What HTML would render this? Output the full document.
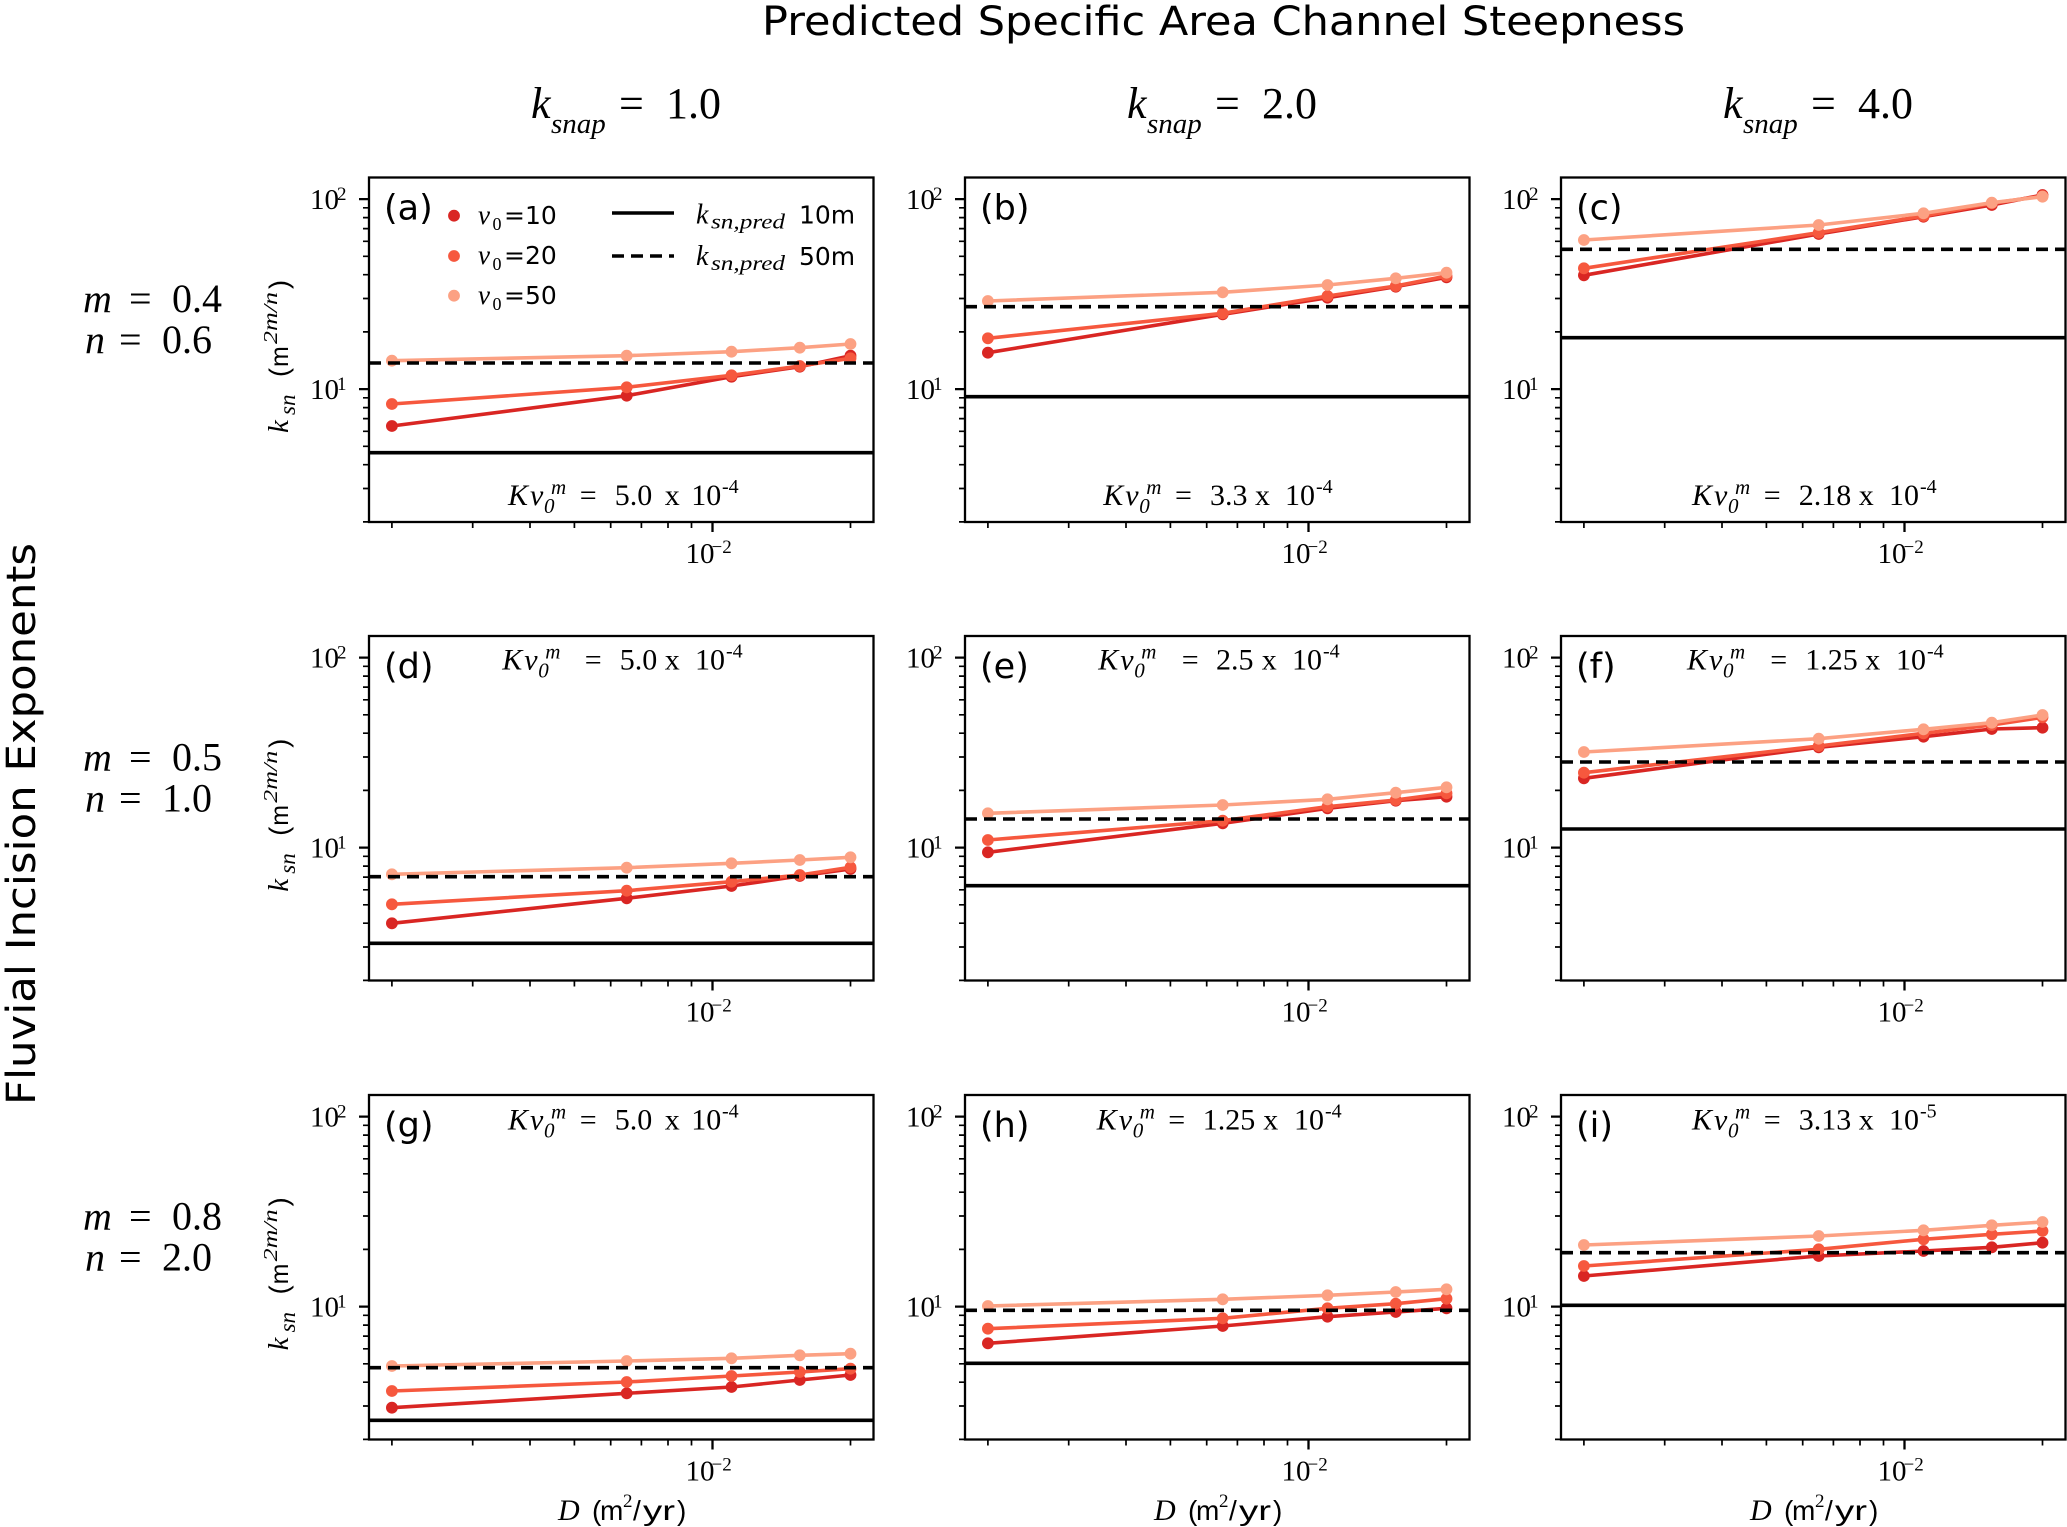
<!DOCTYPE html>
<html><head><meta charset="utf-8">
<style>
html,body{margin:0;padding:0;background:#fff}
svg{display:block}
.sf{font-family:"Liberation Serif",serif}
.it{font-family:"Liberation Serif",serif;font-style:italic}
.ss{font-family:"DejaVu Sans",sans-serif}
.ls{font-family:"Liberation Sans",sans-serif}
.l1{fill:none;stroke:#d92623;stroke-width:3.6;stroke-linejoin:round}
.l2{fill:none;stroke:#f6583e;stroke-width:3.6;stroke-linejoin:round}
.l3{fill:none;stroke:#fca183;stroke-width:3.6;stroke-linejoin:round}
.m1{fill:#d92623}.m2{fill:#f6583e}.m3{fill:#fca183}
.hs{stroke:#000;stroke-width:3.6}
.hd{stroke:#000;stroke-width:3.6;stroke-dasharray:12 7}
.t29{font-family:"Liberation Serif",serif;font-size:29px}
.t19{font-family:"Liberation Serif",serif;font-size:19px}
.kv{font-family:"Liberation Serif",serif;font-size:30px}
.kvi{font-family:"Liberation Serif",serif;font-style:italic;font-size:30px}
.kvs{font-family:"Liberation Serif",serif;font-style:italic;font-size:21px}
.kvp{font-family:"Liberation Serif",serif;font-size:20px}
.pl{font-family:"DejaVu Sans",sans-serif;font-size:35px}
circle{r:5.9px}
</style></head><body>
<svg xmlns="http://www.w3.org/2000/svg" xmlns:xlink="http://www.w3.org/1999/xlink" width="2067" height="1527" viewBox="0 0 2067 1527">
<defs>
<g id="ax">
<rect x="0" y="0" width="504.5" height="344.5" fill="none" stroke="#000" stroke-width="2.3"/>
<path d="M0 21.6h-10M0 211.6h-10M343.5 344.5v10" stroke="#000" stroke-width="2.3" fill="none"/>
<path d="M0 30.3h-6M0 40.1h-6M0 51.1h-6M0 63.8h-6M0 78.8h-6M0 97.2h-6M0 121h-6M0 154.4h-6M0 220.3h-6M0 230.1h-6M0 241.1h-6M0 253.8h-6M0 268.8h-6M0 287.2h-6M0 311h-6M0 344.4h-6M22.9 344.5v6M103.7 344.5v6M161 344.5v6M205.4 344.5v6M241.7 344.5v6M272.4 344.5v6M299 344.5v6M322.5 344.5v6M481.5 344.5v6" stroke="#000" stroke-width="1.7" fill="none"/>
</g>
</defs>

<!-- Title -->
<text x="762" y="35" class="ss" font-size="40" textLength="923" lengthAdjust="spacingAndGlyphs">Predicted Specific Area Channel Steepness</text>

<!-- Fluvial Incision Exponents -->
<g transform="translate(35,1105) rotate(-90)">
<text x="0" y="0" class="ss" font-size="40" textLength="562" lengthAdjust="spacingAndGlyphs">Fluvial Incision Exponents</text>
</g>

<!-- Column headers -->
<g>
<text x="531" y="118" class="it" font-size="44">k</text><text x="551" y="133" class="it" font-size="29">snap</text><text x="619" y="118" class="sf" font-size="44">=</text><text x="666" y="118" class="sf" font-size="44">1.0</text>
<text x="1127" y="118" class="it" font-size="44">k</text><text x="1147" y="133" class="it" font-size="29">snap</text><text x="1215" y="118" class="sf" font-size="44">=</text><text x="1262" y="118" class="sf" font-size="44">2.0</text>
<text x="1723" y="118" class="it" font-size="44">k</text><text x="1743" y="133" class="it" font-size="29">snap</text><text x="1811" y="118" class="sf" font-size="44">=</text><text x="1858" y="118" class="sf" font-size="44">4.0</text>
</g>

<!-- Row labels -->
<g>
<text x="83" y="312" class="it" font-size="40">m</text><text x="129" y="312" class="sf" font-size="40">=</text><text x="172" y="312" class="sf" font-size="40">0.4</text>
<text x="85" y="353" class="it" font-size="40">n</text><text x="119" y="353" class="sf" font-size="40">=</text><text x="162" y="353" class="sf" font-size="40">0.6</text>
<text x="83" y="770.7" class="it" font-size="40">m</text><text x="129" y="770.7" class="sf" font-size="40">=</text><text x="172" y="770.7" class="sf" font-size="40">0.5</text>
<text x="85" y="811.7" class="it" font-size="40">n</text><text x="119" y="811.7" class="sf" font-size="40">=</text><text x="162" y="811.7" class="sf" font-size="40">1.0</text>
<text x="83" y="1229.4" class="it" font-size="40">m</text><text x="129" y="1229.4" class="sf" font-size="40">=</text><text x="172" y="1229.4" class="sf" font-size="40">0.8</text>
<text x="85" y="1270.4" class="it" font-size="40">n</text><text x="119" y="1270.4" class="sf" font-size="40">=</text><text x="162" y="1270.4" class="sf" font-size="40">2.0</text>
</g>

<!-- Y labels -->
<g transform="translate(288,433) rotate(-90)">
<text x="0" y="0" class="it" font-size="29">k</text><text x="18" y="7" class="it" font-size="23">sn</text>
<text x="56" y="0" class="ls" font-size="27">(</text><text x="66" y="0" class="ls" font-size="25">m</text>
<text x="89" y="-11" class="it" font-size="20" textLength="52" lengthAdjust="spacingAndGlyphs">2m/n</text>
<text x="144" y="0" class="ls" font-size="27">)</text>
</g>
<g transform="translate(288,891.7) rotate(-90)">
<text x="0" y="0" class="it" font-size="29">k</text><text x="18" y="7" class="it" font-size="23">sn</text>
<text x="56" y="0" class="ls" font-size="27">(</text><text x="66" y="0" class="ls" font-size="25">m</text>
<text x="89" y="-11" class="it" font-size="20" textLength="52" lengthAdjust="spacingAndGlyphs">2m/n</text>
<text x="144" y="0" class="ls" font-size="27">)</text>
</g>
<g transform="translate(288,1350.4) rotate(-90)">
<text x="0" y="0" class="it" font-size="29">k</text><text x="18" y="7" class="it" font-size="23">sn</text>
<text x="56" y="0" class="ls" font-size="27">(</text><text x="66" y="0" class="ls" font-size="25">m</text>
<text x="89" y="-11" class="it" font-size="20" textLength="52" lengthAdjust="spacingAndGlyphs">2m/n</text>
<text x="144" y="0" class="ls" font-size="27">)</text>
</g>

<!-- Panel a -->
<g transform="translate(369,177.5)">
<polyline class="l1" points="22.9,248.5 257.7,218.2 362.5,199.2 430.8,189.2 481.5,178.2"/>
<g class="m1"><circle cx="22.9" cy="248.5" r="5.9"/><circle cx="257.7" cy="218.2" r="5.9"/><circle cx="362.5" cy="199.2" r="5.9"/><circle cx="430.8" cy="189.2" r="5.9"/><circle cx="481.5" cy="178.2" r="5.9"/></g>
<polyline class="l2" points="22.9,226.5 257.7,209.8 362.5,197.8 430.8,188.5 481.5,180.8"/>
<g class="m2"><circle cx="22.9" cy="226.5" r="5.9"/><circle cx="257.7" cy="209.8" r="5.9"/><circle cx="362.5" cy="197.8" r="5.9"/><circle cx="430.8" cy="188.5" r="5.9"/><circle cx="481.5" cy="180.8" r="5.9"/></g>
<polyline class="l3" points="22.9,183.2 257.7,178.2 362.5,174.2 430.8,170.2 481.5,166.5"/>
<g class="m3"><circle cx="22.9" cy="183.2" r="5.9"/><circle cx="257.7" cy="178.2" r="5.9"/><circle cx="362.5" cy="174.2" r="5.9"/><circle cx="430.8" cy="170.2" r="5.9"/><circle cx="481.5" cy="166.5" r="5.9"/></g>
<line class="hs" x1="0" x2="504.5" y1="275.2" y2="275.2"/>
<line class="hd" x1="0" x2="504.5" y1="185.5" y2="185.5"/>
<use xlink:href="#ax" href="#ax"/>
<text x="-59" y="31.6" class="t29">10</text><text x="-32" y="22.6" class="t19">2</text>
<text x="-59" y="221.6" class="t29">10</text><text x="-32" y="212.6" class="t19">1</text>
<text x="316.5" y="385.5" class="t29">10</text><text x="342.5" y="375.5" class="t19">−2</text>
<text x="15" y="42" class="pl">(a)</text>
<!-- legend -->
<circle class="m1" cx="85" cy="38.2" r="5.9"/><circle class="m2" cx="85" cy="78.5" r="5.9"/><circle class="m3" cx="85" cy="118.2" r="5.9"/>
<text x="109" y="46.5" class="it" font-size="27">v</text><text x="123.5" y="52.5" class="sf" font-size="18">0</text><text x="135" y="46.5" class="ss" font-size="25">=10</text>
<text x="109" y="86.5" class="it" font-size="27">v</text><text x="123.5" y="92.5" class="sf" font-size="18">0</text><text x="135" y="86.5" class="ss" font-size="25">=20</text>
<text x="109" y="126.5" class="it" font-size="27">v</text><text x="123.5" y="132.5" class="sf" font-size="18">0</text><text x="135" y="126.5" class="ss" font-size="25">=50</text>
<line class="hs" x1="243" x2="305" y1="35.5" y2="35.5"/>
<line class="hd" x1="243" x2="305" y1="78.5" y2="78.5"/>
<text x="327" y="45.8" class="it" font-size="28">k</text><text x="342" y="51" class="it" font-size="21" textLength="74" lengthAdjust="spacingAndGlyphs">sn,pred</text><text x="430" y="45.8" class="ss" font-size="25">10m</text>
<text x="327" y="87.5" class="it" font-size="28">k</text><text x="342" y="92.7" class="it" font-size="21" textLength="74" lengthAdjust="spacingAndGlyphs">sn,pred</text><text x="430" y="87.5" class="ss" font-size="25">50m</text>
</g>

<!-- Panel b -->
<g transform="translate(965,177.5)">
<polyline class="l1" points="22.9,175.2 257.7,136.8 362.5,120.2 430.8,109.2 481.5,99.8"/>
<g class="m1"><circle cx="22.9" cy="175.2" r="5.9"/><circle cx="257.7" cy="136.8" r="5.9"/><circle cx="362.5" cy="120.2" r="5.9"/><circle cx="430.8" cy="109.2" r="5.9"/><circle cx="481.5" cy="99.8" r="5.9"/></g>
<polyline class="l2" points="22.9,160.8 257.7,135.8 362.5,118.5 430.8,108.5 481.5,98.5"/>
<g class="m2"><circle cx="22.9" cy="160.8" r="5.9"/><circle cx="257.7" cy="135.8" r="5.9"/><circle cx="362.5" cy="118.5" r="5.9"/><circle cx="430.8" cy="108.5" r="5.9"/><circle cx="481.5" cy="98.5" r="5.9"/></g>
<polyline class="l3" points="22.9,123.5 257.7,114.8 362.5,107.5 430.8,100.8 481.5,95.2"/>
<g class="m3"><circle cx="22.9" cy="123.5" r="5.9"/><circle cx="257.7" cy="114.8" r="5.9"/><circle cx="362.5" cy="107.5" r="5.9"/><circle cx="430.8" cy="100.8" r="5.9"/><circle cx="481.5" cy="95.2" r="5.9"/></g>
<line class="hs" x1="0" x2="504.5" y1="219.2" y2="219.2"/>
<line class="hd" x1="0" x2="504.5" y1="129.2" y2="129.2"/>
<use xlink:href="#ax" href="#ax"/>
<text x="-59" y="31.6" class="t29">10</text><text x="-32" y="22.6" class="t19">2</text>
<text x="-59" y="221.6" class="t29">10</text><text x="-32" y="212.6" class="t19">1</text>
<text x="316.5" y="385.5" class="t29">10</text><text x="342.5" y="375.5" class="t19">−2</text>
<text x="15" y="42" class="pl">(b)</text>
</g>

<!-- Panel c -->
<g transform="translate(1561,177.5)">
<polyline class="l1" points="22.9,97.8 257.7,56.5 362.5,39.2 430.8,27.5 481.5,17.5"/>
<g class="m1"><circle cx="22.9" cy="97.8" r="5.9"/><circle cx="257.7" cy="56.5" r="5.9"/><circle cx="362.5" cy="39.2" r="5.9"/><circle cx="430.8" cy="27.5" r="5.9"/><circle cx="481.5" cy="17.5" r="5.9"/></g>
<polyline class="l2" points="22.9,90.8 257.7,55.2 362.5,38.5 430.8,25.8 481.5,18.5"/>
<g class="m2"><circle cx="22.9" cy="90.8" r="5.9"/><circle cx="257.7" cy="55.2" r="5.9"/><circle cx="362.5" cy="38.5" r="5.9"/><circle cx="430.8" cy="25.8" r="5.9"/><circle cx="481.5" cy="18.5" r="5.9"/></g>
<polyline class="l3" points="22.9,62.5 257.7,47.5 362.5,35.8 430.8,25.2 481.5,19.2"/>
<g class="m3"><circle cx="22.9" cy="62.5" r="5.9"/><circle cx="257.7" cy="47.5" r="5.9"/><circle cx="362.5" cy="35.8" r="5.9"/><circle cx="430.8" cy="25.2" r="5.9"/><circle cx="481.5" cy="19.2" r="5.9"/></g>
<line class="hs" x1="0" x2="504.5" y1="160.2" y2="160.2"/>
<line class="hd" x1="0" x2="504.5" y1="71.8" y2="71.8"/>
<use xlink:href="#ax" href="#ax"/>
<text x="-59" y="31.6" class="t29">10</text><text x="-32" y="22.6" class="t19">2</text>
<text x="-59" y="221.6" class="t29">10</text><text x="-32" y="212.6" class="t19">1</text>
<text x="316.5" y="385.5" class="t29">10</text><text x="342.5" y="375.5" class="t19">−2</text>
<text x="15" y="42" class="pl">(c)</text>
</g>

<!-- Panel d -->
<g transform="translate(369,636)">
<polyline class="l1" points="22.9,287.3 257.7,262.3 362.5,250 430.8,240 481.5,233"/>
<g class="m1"><circle cx="22.9" cy="287.3" r="5.9"/><circle cx="257.7" cy="262.3" r="5.9"/><circle cx="362.5" cy="250" r="5.9"/><circle cx="430.8" cy="240" r="5.9"/><circle cx="481.5" cy="233" r="5.9"/></g>
<polyline class="l2" points="22.9,268.3 257.7,254.7 362.5,245.7 430.8,239 481.5,231.3"/>
<g class="m2"><circle cx="22.9" cy="268.3" r="5.9"/><circle cx="257.7" cy="254.7" r="5.9"/><circle cx="362.5" cy="245.7" r="5.9"/><circle cx="430.8" cy="239" r="5.9"/><circle cx="481.5" cy="231.3" r="5.9"/></g>
<polyline class="l3" points="22.9,238.3 257.7,231.7 362.5,227.3 430.8,224 481.5,221.3"/>
<g class="m3"><circle cx="22.9" cy="238.3" r="5.9"/><circle cx="257.7" cy="231.7" r="5.9"/><circle cx="362.5" cy="227.3" r="5.9"/><circle cx="430.8" cy="224" r="5.9"/><circle cx="481.5" cy="221.3" r="5.9"/></g>
<line class="hs" x1="0" x2="504.5" y1="307.3" y2="307.3"/>
<line class="hd" x1="0" x2="504.5" y1="240.7" y2="240.7"/>
<use xlink:href="#ax" href="#ax"/>
<text x="-59" y="31.6" class="t29">10</text><text x="-32" y="22.6" class="t19">2</text>
<text x="-59" y="221.6" class="t29">10</text><text x="-32" y="212.6" class="t19">1</text>
<text x="316.5" y="385.5" class="t29">10</text><text x="342.5" y="375.5" class="t19">−2</text>
<text x="15" y="42" class="pl">(d)</text>
</g>

<!-- Panel e -->
<g transform="translate(965,636)">
<polyline class="l1" points="22.9,216.3 257.7,187.3 362.5,172.3 430.8,164.7 481.5,160.7"/>
<g class="m1"><circle cx="22.9" cy="216.3" r="5.9"/><circle cx="257.7" cy="187.3" r="5.9"/><circle cx="362.5" cy="172.3" r="5.9"/><circle cx="430.8" cy="164.7" r="5.9"/><circle cx="481.5" cy="160.7" r="5.9"/></g>
<polyline class="l2" points="22.9,204 257.7,184.7 362.5,170.7 430.8,164 481.5,157.3"/>
<g class="m2"><circle cx="22.9" cy="204" r="5.9"/><circle cx="257.7" cy="184.7" r="5.9"/><circle cx="362.5" cy="170.7" r="5.9"/><circle cx="430.8" cy="164" r="5.9"/><circle cx="481.5" cy="157.3" r="5.9"/></g>
<polyline class="l3" points="22.9,177.3 257.7,169 362.5,163.3 430.8,156.7 481.5,151.3"/>
<g class="m3"><circle cx="22.9" cy="177.3" r="5.9"/><circle cx="257.7" cy="169" r="5.9"/><circle cx="362.5" cy="163.3" r="5.9"/><circle cx="430.8" cy="156.7" r="5.9"/><circle cx="481.5" cy="151.3" r="5.9"/></g>
<line class="hs" x1="0" x2="504.5" y1="249.7" y2="249.7"/>
<line class="hd" x1="0" x2="504.5" y1="183" y2="183"/>
<use xlink:href="#ax" href="#ax"/>
<text x="-59" y="31.6" class="t29">10</text><text x="-32" y="22.6" class="t19">2</text>
<text x="-59" y="221.6" class="t29">10</text><text x="-32" y="212.6" class="t19">1</text>
<text x="316.5" y="385.5" class="t29">10</text><text x="342.5" y="375.5" class="t19">−2</text>
<text x="15" y="42" class="pl">(e)</text>
</g>

<!-- Panel f -->
<g transform="translate(1561,636)">
<polyline class="l1" points="22.9,142.3 257.7,111.3 362.5,100.7 430.8,93 481.5,91.7"/>
<g class="m1"><circle cx="22.9" cy="142.3" r="5.9"/><circle cx="257.7" cy="111.3" r="5.9"/><circle cx="362.5" cy="100.7" r="5.9"/><circle cx="430.8" cy="93" r="5.9"/><circle cx="481.5" cy="91.7" r="5.9"/></g>
<polyline class="l2" points="22.9,136.7 257.7,110 362.5,97.3 430.8,89 481.5,81.3"/>
<g class="m2"><circle cx="22.9" cy="136.7" r="5.9"/><circle cx="257.7" cy="110" r="5.9"/><circle cx="362.5" cy="97.3" r="5.9"/><circle cx="430.8" cy="89" r="5.9"/><circle cx="481.5" cy="81.3" r="5.9"/></g>
<polyline class="l3" points="22.9,116 257.7,102.7 362.5,93.3 430.8,86.7 481.5,79"/>
<g class="m3"><circle cx="22.9" cy="116" r="5.9"/><circle cx="257.7" cy="102.7" r="5.9"/><circle cx="362.5" cy="93.3" r="5.9"/><circle cx="430.8" cy="86.7" r="5.9"/><circle cx="481.5" cy="79" r="5.9"/></g>
<line class="hs" x1="0" x2="504.5" y1="193" y2="193"/>
<line class="hd" x1="0" x2="504.5" y1="126" y2="126"/>
<use xlink:href="#ax" href="#ax"/>
<text x="-59" y="31.6" class="t29">10</text><text x="-32" y="22.6" class="t19">2</text>
<text x="-59" y="221.6" class="t29">10</text><text x="-32" y="212.6" class="t19">1</text>
<text x="316.5" y="385.5" class="t29">10</text><text x="342.5" y="375.5" class="t19">−2</text>
<text x="15" y="42" class="pl">(f)</text>
</g>

<!-- Panel g -->
<g transform="translate(369,1095)">
<polyline class="l1" points="22.9,312.7 257.7,298.3 362.5,292 430.8,285 481.5,280"/>
<g class="m1"><circle cx="22.9" cy="312.7" r="5.9"/><circle cx="257.7" cy="298.3" r="5.9"/><circle cx="362.5" cy="292" r="5.9"/><circle cx="430.8" cy="285" r="5.9"/><circle cx="481.5" cy="280" r="5.9"/></g>
<polyline class="l2" points="22.9,296 257.7,287 362.5,281 430.8,277 481.5,273.7"/>
<g class="m2"><circle cx="22.9" cy="296" r="5.9"/><circle cx="257.7" cy="287" r="5.9"/><circle cx="362.5" cy="281" r="5.9"/><circle cx="430.8" cy="277" r="5.9"/><circle cx="481.5" cy="273.7" r="5.9"/></g>
<polyline class="l3" points="22.9,271 257.7,266 362.5,263.3 430.8,260.3 481.5,258.7"/>
<g class="m3"><circle cx="22.9" cy="271" r="5.9"/><circle cx="257.7" cy="266" r="5.9"/><circle cx="362.5" cy="263.3" r="5.9"/><circle cx="430.8" cy="260.3" r="5.9"/><circle cx="481.5" cy="258.7" r="5.9"/></g>
<line class="hs" x1="0" x2="504.5" y1="325.3" y2="325.3"/>
<line class="hd" x1="0" x2="504.5" y1="272.7" y2="272.7"/>
<use xlink:href="#ax" href="#ax"/>
<text x="-59" y="31.6" class="t29">10</text><text x="-32" y="22.6" class="t19">2</text>
<text x="-59" y="221.6" class="t29">10</text><text x="-32" y="212.6" class="t19">1</text>
<text x="316.5" y="385.5" class="t29">10</text><text x="342.5" y="375.5" class="t19">−2</text>
<text x="15" y="42" class="pl">(g)</text>
</g>

<!-- Panel h -->
<g transform="translate(965,1095)">
<polyline class="l1" points="22.9,248.3 257.7,231 362.5,221.7 430.8,217 481.5,213.3"/>
<g class="m1"><circle cx="22.9" cy="248.3" r="5.9"/><circle cx="257.7" cy="231" r="5.9"/><circle cx="362.5" cy="221.7" r="5.9"/><circle cx="430.8" cy="217" r="5.9"/><circle cx="481.5" cy="213.3" r="5.9"/></g>
<polyline class="l2" points="22.9,233.7 257.7,223.3 362.5,213.3 430.8,208.7 481.5,203.7"/>
<g class="m2"><circle cx="22.9" cy="233.7" r="5.9"/><circle cx="257.7" cy="223.3" r="5.9"/><circle cx="362.5" cy="213.3" r="5.9"/><circle cx="430.8" cy="208.7" r="5.9"/><circle cx="481.5" cy="203.7" r="5.9"/></g>
<polyline class="l3" points="22.9,211 257.7,204.3 362.5,200.3 430.8,197 481.5,194.3"/>
<g class="m3"><circle cx="22.9" cy="211" r="5.9"/><circle cx="257.7" cy="204.3" r="5.9"/><circle cx="362.5" cy="200.3" r="5.9"/><circle cx="430.8" cy="197" r="5.9"/><circle cx="481.5" cy="194.3" r="5.9"/></g>
<line class="hs" x1="0" x2="504.5" y1="268.3" y2="268.3"/>
<line class="hd" x1="0" x2="504.5" y1="215.3" y2="215.3"/>
<use xlink:href="#ax" href="#ax"/>
<text x="-59" y="31.6" class="t29">10</text><text x="-32" y="22.6" class="t19">2</text>
<text x="-59" y="221.6" class="t29">10</text><text x="-32" y="212.6" class="t19">1</text>
<text x="316.5" y="385.5" class="t29">10</text><text x="342.5" y="375.5" class="t19">−2</text>
<text x="15" y="42" class="pl">(h)</text>
</g>

<!-- Panel i -->
<g transform="translate(1561,1095)">
<polyline class="l1" points="22.9,181 257.7,161 362.5,156 430.8,152.3 481.5,147.7"/>
<g class="m1"><circle cx="22.9" cy="181" r="5.9"/><circle cx="257.7" cy="161" r="5.9"/><circle cx="362.5" cy="156" r="5.9"/><circle cx="430.8" cy="152.3" r="5.9"/><circle cx="481.5" cy="147.7" r="5.9"/></g>
<polyline class="l2" points="22.9,171 257.7,154.3 362.5,144.3 430.8,139.3 481.5,136"/>
<g class="m2"><circle cx="22.9" cy="171" r="5.9"/><circle cx="257.7" cy="154.3" r="5.9"/><circle cx="362.5" cy="144.3" r="5.9"/><circle cx="430.8" cy="139.3" r="5.9"/><circle cx="481.5" cy="136" r="5.9"/></g>
<polyline class="l3" points="22.9,150 257.7,141 362.5,135.3 430.8,130.3 481.5,127"/>
<g class="m3"><circle cx="22.9" cy="150" r="5.9"/><circle cx="257.7" cy="141" r="5.9"/><circle cx="362.5" cy="135.3" r="5.9"/><circle cx="430.8" cy="130.3" r="5.9"/><circle cx="481.5" cy="127" r="5.9"/></g>
<line class="hs" x1="0" x2="504.5" y1="210.3" y2="210.3"/>
<line class="hd" x1="0" x2="504.5" y1="157.7" y2="157.7"/>
<use xlink:href="#ax" href="#ax"/>
<text x="-59" y="31.6" class="t29">10</text><text x="-32" y="22.6" class="t19">2</text>
<text x="-59" y="221.6" class="t29">10</text><text x="-32" y="212.6" class="t19">1</text>
<text x="316.5" y="385.5" class="t29">10</text><text x="342.5" y="375.5" class="t19">−2</text>
<text x="15" y="42" class="pl">(i)</text>
</g>

<!-- Kv annotations -->
<g>
<!-- a -->
<text x="508" y="505" class="kvi">K</text><text x="530" y="505" class="kvi">v</text><text x="544" y="513" class="kvs">0</text><text x="551" y="494" class="kvs">m</text>
<text x="579.7" y="505" class="kv">=</text><text x="614.7" y="505" class="kv">5.0</text><text x="664.7" y="505" class="kv">x</text><text x="691.3" y="505" class="kv">10</text><text x="722" y="493" class="kvp">-4</text>
<!-- b -->
<text x="1103.3" y="505" class="kvi">K</text><text x="1125.3" y="505" class="kvi">v</text><text x="1139.3" y="513" class="kvs">0</text><text x="1146.3" y="494" class="kvs">m</text>
<text x="1175" y="505" class="kv">=</text><text x="1210" y="505" class="kv">3.3</text><text x="1255" y="505" class="kv">x</text><text x="1285" y="505" class="kv">10</text><text x="1316" y="493" class="kvp">-4</text>
<!-- c -->
<text x="1692" y="505" class="kvi">K</text><text x="1714" y="505" class="kvi">v</text><text x="1728" y="513" class="kvs">0</text><text x="1735" y="494" class="kvs">m</text>
<text x="1763.7" y="505" class="kv">=</text><text x="1798.7" y="505" class="kv">2.18</text><text x="1858.7" y="505" class="kv">x</text><text x="1889" y="505" class="kv">10</text><text x="1920" y="493" class="kvp">-4</text>
<!-- d -->
<text x="502.3" y="669.3" class="kvi">K</text><text x="524.3" y="669.3" class="kvi">v</text><text x="538.3" y="677.3" class="kvs">0</text><text x="545.3" y="658.3" class="kvs">m</text>
<text x="584.7" y="669.3" class="kv">=</text><text x="619.7" y="669.3" class="kv">5.0</text><text x="664.7" y="669.3" class="kv">x</text><text x="695" y="669.3" class="kv">10</text><text x="726" y="657.3" class="kvp">-4</text>
<!-- e -->
<text x="1098.3" y="669.3" class="kvi">K</text><text x="1120.3" y="669.3" class="kvi">v</text><text x="1134.3" y="677.3" class="kvs">0</text><text x="1141.3" y="658.3" class="kvs">m</text>
<text x="1181.7" y="669.3" class="kv">=</text><text x="1216" y="669.3" class="kv">2.5</text><text x="1261.7" y="669.3" class="kv">x</text><text x="1292" y="669.3" class="kv">10</text><text x="1323" y="657.3" class="kvp">-4</text>
<!-- f -->
<text x="1687" y="669.3" class="kvi">K</text><text x="1709" y="669.3" class="kvi">v</text><text x="1723" y="677.3" class="kvs">0</text><text x="1730" y="658.3" class="kvs">m</text>
<text x="1770.3" y="669.3" class="kv">=</text><text x="1805.3" y="669.3" class="kv">1.25</text><text x="1865.3" y="669.3" class="kv">x</text><text x="1896" y="669.3" class="kv">10</text><text x="1927" y="657.3" class="kvp">-4</text>
<!-- g -->
<text x="508" y="1129.3" class="kvi">K</text><text x="530" y="1129.3" class="kvi">v</text><text x="544" y="1137.3" class="kvs">0</text><text x="551" y="1118.3" class="kvs">m</text>
<text x="579.7" y="1129.3" class="kv">=</text><text x="614.7" y="1129.3" class="kv">5.0</text><text x="664.7" y="1129.3" class="kv">x</text><text x="691.3" y="1129.3" class="kv">10</text><text x="722" y="1117.3" class="kvp">-4</text>
<!-- h -->
<text x="1096.7" y="1129.3" class="kvi">K</text><text x="1118.7" y="1129.3" class="kvi">v</text><text x="1132.7" y="1137.3" class="kvs">0</text><text x="1139.7" y="1118.3" class="kvs">m</text>
<text x="1168.3" y="1129.3" class="kv">=</text><text x="1202.7" y="1129.3" class="kv">1.25</text><text x="1263.3" y="1129.3" class="kv">x</text><text x="1294" y="1129.3" class="kv">10</text><text x="1325" y="1117.3" class="kvp">-4</text>
<!-- i -->
<text x="1692" y="1129.3" class="kvi">K</text><text x="1714" y="1129.3" class="kvi">v</text><text x="1728" y="1137.3" class="kvs">0</text><text x="1735" y="1118.3" class="kvs">m</text>
<text x="1763.7" y="1129.3" class="kv">=</text><text x="1798.7" y="1129.3" class="kv">3.13</text><text x="1858.7" y="1129.3" class="kv">x</text><text x="1889" y="1129.3" class="kv">10</text><text x="1920" y="1117.3" class="kvp">-5</text>
</g>

<!-- X labels -->
<g>
<text x="558" y="1520" class="it" font-size="30">D</text><text x="592" y="1520" class="ls" font-size="28">(</text><text x="600" y="1520" class="ls" font-size="28">m</text><text x="623" y="1507" class="sf" font-size="19">2</text><text x="633" y="1520" class="ls" font-size="28">/</text><text x="643" y="1520" class="ls" font-size="28" textLength="32" lengthAdjust="spacingAndGlyphs">yr</text><text x="677" y="1520" class="ls" font-size="28">)</text>
<text x="1154" y="1520" class="it" font-size="30">D</text><text x="1188" y="1520" class="ls" font-size="28">(</text><text x="1196" y="1520" class="ls" font-size="28">m</text><text x="1219" y="1507" class="sf" font-size="19">2</text><text x="1229" y="1520" class="ls" font-size="28">/</text><text x="1239" y="1520" class="ls" font-size="28" textLength="32" lengthAdjust="spacingAndGlyphs">yr</text><text x="1273" y="1520" class="ls" font-size="28">)</text>
<text x="1750" y="1520" class="it" font-size="30">D</text><text x="1784" y="1520" class="ls" font-size="28">(</text><text x="1792" y="1520" class="ls" font-size="28">m</text><text x="1815" y="1507" class="sf" font-size="19">2</text><text x="1825" y="1520" class="ls" font-size="28">/</text><text x="1835" y="1520" class="ls" font-size="28" textLength="32" lengthAdjust="spacingAndGlyphs">yr</text><text x="1869" y="1520" class="ls" font-size="28">)</text>
</g>
</svg>
</body></html>
